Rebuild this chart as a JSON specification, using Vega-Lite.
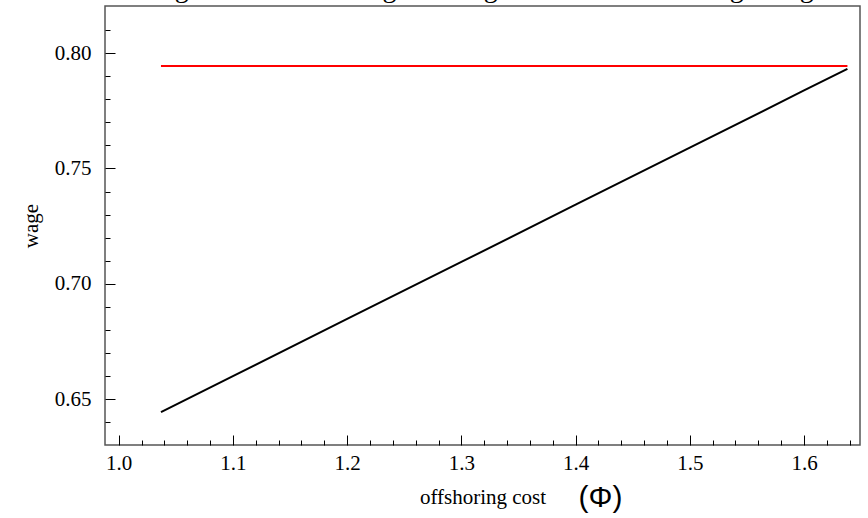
{
  "$schema": "https://vega.github.io/schema/vega-lite/v6.json",
  "width": 755,
  "height": 439,
  "autosize": {"type": "none"},
  "padding": {"left": 105, "top": 6, "right": 8, "bottom": 73},
  "background": "white",
  "title": {
    "text": "Figure Out offshoring and wage with individual bargaining",
    "font": "Liberation Serif",
    "fontSize": 28,
    "fontWeight": "normal",
    "color": "black",
    "baseline": "alphabetic",
    "offset": 0,
    "dy": 19,
    "anchor": "middle"
  },
  "config": {
    "view": {"stroke": "#555", "strokeWidth": 1.5},
    "axis": {
      "grid": false,
      "domain": false,
      "labelFont": "Liberation Serif",
      "labelFontSize": 21,
      "labelColor": "black",
      "titleFont": "Liberation Serif",
      "titleFontSize": 21,
      "titleFontWeight": "normal",
      "titleColor": "black",
      "tickColor": "black",
      "tickWidth": 1
    }
  },
  "datasets": {
    "wageCurve": [
      {"phi": 1.037, "wage": 0.6444},
      {"phi": 1.1, "wage": 0.66},
      {"phi": 1.2, "wage": 0.6848},
      {"phi": 1.3, "wage": 0.7095},
      {"phi": 1.4, "wage": 0.7343},
      {"phi": 1.5, "wage": 0.759},
      {"phi": 1.6, "wage": 0.7838},
      {"phi": 1.638, "wage": 0.7932}
    ],
    "wageFlat": [
      {"phi": 1.037, "wage": 0.7944},
      {"phi": 1.638, "wage": 0.7944}
    ]
  },
  "layer": [
    {
      "data": {"name": "wageCurve"},
      "mark": {"type": "line", "color": "black", "strokeWidth": 2},
      "encoding": {
        "x": {
          "field": "phi",
          "type": "quantitative",
          "scale": {"domain": [0.988, 1.649], "nice": false, "zero": false},
          "axis": {
            "orient": "bottom",
            "values": [1.0, 1.1, 1.2, 1.3, 1.4, 1.5, 1.6],
            "format": ".1f",
            "tickSize": -10,
            "labelFont": "Liberation Serif",
            "labelFontSize": 21,
            "labelPadding": 17,
            "title": "offshoring cost",
            "titleFont": "Liberation Serif",
            "titleBaseline": "alphabetic",
            "titleY": 58
          }
        },
        "y": {
          "field": "wage",
          "type": "quantitative",
          "scale": {"domain": [0.6302, 0.8204], "nice": false, "zero": false},
          "axis": {
            "orient": "left",
            "values": [0.65, 0.7, 0.75, 0.8],
            "format": ".2f",
            "tickSize": -10,
            "labelFont": "Liberation Serif",
            "labelFontSize": 21,
            "labelPadding": 24,
            "title": "wage",
            "titleFont": "Liberation Serif",
            "titleBaseline": "alphabetic",
            "titleX": -68
          }
        }
      }
    },
    {
      "data": {"name": "wageFlat"},
      "mark": {"type": "line", "color": "#ff0000", "strokeWidth": 2},
      "encoding": {
        "x": {
          "field": "phi",
          "type": "quantitative",
          "axis": {
            "orient": "bottom",
            "values": [1.02, 1.04, 1.06, 1.08, 1.12, 1.14, 1.16, 1.18, 1.22, 1.24, 1.26, 1.28, 1.32, 1.34, 1.36, 1.38, 1.42, 1.44, 1.46, 1.48, 1.52, 1.54, 1.56, 1.58, 1.62, 1.64],
            "tickSize": -5,
            "labels": false,
            "title": "(Φ)",
            "titleFont": "Liberation Sans",
            "titleFontSize": 30,
            "titleBaseline": "alphabetic",
            "titleX": 495,
            "titleY": 61
          }
        },
        "y": {
          "field": "wage",
          "type": "quantitative",
          "axis": {
            "orient": "left",
            "values": [0.64, 0.66, 0.67, 0.68, 0.69, 0.71, 0.72, 0.73, 0.74, 0.76, 0.77, 0.78, 0.79, 0.81],
            "tickSize": -5,
            "labels": false,
            "title": null
          }
        }
      }
    }
  ],
  "resolve": {"axis": {"x": "independent", "y": "independent"}}
}
